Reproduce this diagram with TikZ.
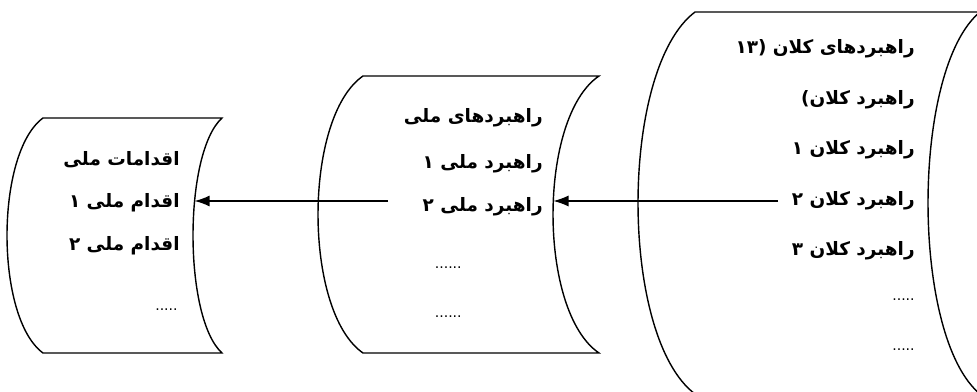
\documentclass[tikz,border=0pt]{standalone}
\usepackage{fontspec}
\usepackage{tikz}
\usetikzlibrary{arrows.meta, positioning, calc}
\TeXXeTstate=1
\newfontfamily\arabicfont[Script=Arabic]{DejaVu Sans}
\newcommand{\fa}[1]{{\arabicfont\bfseries\beginR #1\endR}}
% sheet outline: left x, right x, top y, bottom y, left bulge, right bulge
\newcommand{\drawsheet}[6]{%
  \draw[sheet] (#1,#3) -- (#2,#3)
    .. controls ({#2-1.333*#6},{#3+0.15*(#4-#3)}) and ({#2-1.333*#6},{#4-0.15*(#4-#3)}) .. (#2,#4)
    -- (#1,#4)
    .. controls ({#1-1.333*#5},{#4-0.15*(#4-#3)}) and ({#1-1.333*#5},{#3+0.15*(#4-#3)}) .. cycle;}

\begin{document}
\begin{tikzpicture}[
    x=0.2mm, y=-0.2mm,
    sheet/.style={draw, line width=0.8pt},
    row/.style={anchor=east, inner sep=0pt, font=\fontsize{10.5}{12}\selectfont},
    dots/.style={anchor=east, inner sep=0pt, font=\arabicfont\fontsize{8}{10}\selectfont},
    arrow/.style={-{Latex[length=3mm,width=2.2mm]}, line width=0.7pt}
]
\fill[white] (0,0) rectangle (977,392);
\useasboundingbox (0,0) rectangle (977,392);

% Sheets
\drawsheet{43}{222}{118}{353}{36}{29}
\drawsheet{363}{599}{76}{353}{45}{46}
\drawsheet{695}{980}{12}{394}{57}{52}

% Macro strategies
\node[row] (k1) at (915,49) {\fa{راهبردهای کلان (۱۳}};
\node[row] (k2) at (915,99.5) {\fa{راهبرد کلان)}};
\node[row] (k3) at (915,150) {\fa{راهبرد کلان ۱}};
\node[row] (k4) at (915,200.5) {\fa{راهبرد کلان ۲}};
\node[row] (k5) at (915,251) {\fa{راهبرد کلان ۳}};
\node[dots] (k6) at (915,300) {.....};
\node[dots] (k7) at (915,350) {.....};

% National strategies
\node[row] (m1) at (543,118) {\fa{راهبردهای ملی}};
\node[row] (m2) at (543,164) {\fa{راهبرد ملی ۱}};
\node[row] (m3) at (543,207) {\fa{راهبرد ملی ۲}};
\node[dots] (m4) at (462,268) {......};
\node[dots] (m5) at (462,317) {......};

% National actions
\node[row] (a1) at (180,160) {\fa{اقدامات ملی}};
\node[row] (a2) at (180,203) {\fa{اقدام ملی ۱}};
\node[row] (a3) at (180,246) {\fa{اقدام ملی ۲}};
\node[dots] (a4) at (178,310) {.....};

% Arrows
\coordinate (kout) at (778,201);
\coordinate (min) at (553.5,201);
\coordinate (mout) at (388,201);
\coordinate (ain) at (194.6,201);
\draw[arrow] (kout) -- (min);
\draw[arrow] (mout) -- (ain);

\end{tikzpicture}
\end{document}
